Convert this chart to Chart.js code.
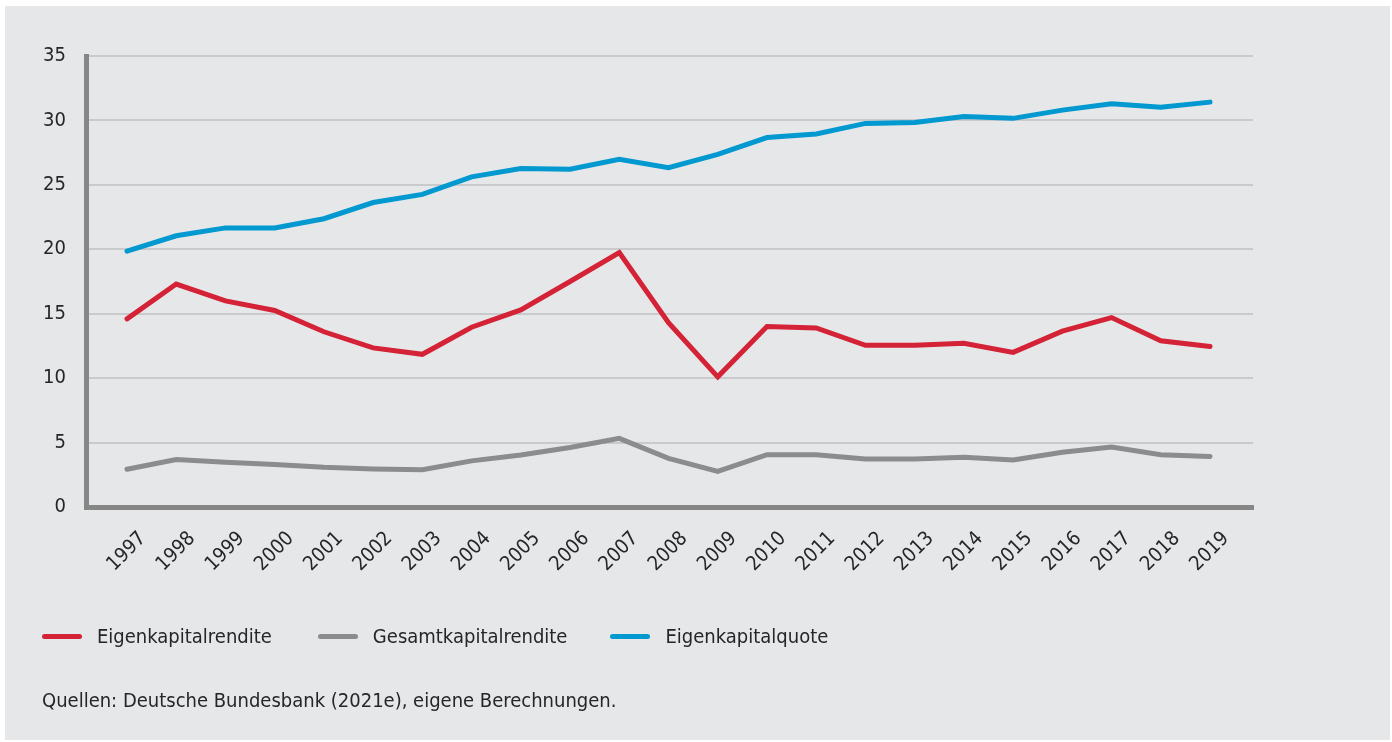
<!DOCTYPE html>
<html>
<head>
<meta charset="utf-8">
<script src="https://cdn.jsdelivr.net/npm/chart.js@4/dist/chart.umd.min.js"></script>
<style>
  html, body { margin: 0; padding: 0; background: #ffffff; }
  body { width: 1392px; height: 742px; position: relative; overflow: hidden;
         font-family: "DejaVu Sans Condensed", "DejaVu Sans", sans-serif; color: #262626; }
  #panel { position: absolute; left: 5px; top: 6px; width: 1385px; height: 734px; background: #e6e7e9; }
  #chartBox { position: absolute; left: 0; top: 0; width: 1392px; height: 742px; }
  .legend { position: absolute; top: 624px; left: 42px; height: 24px; display: flex; align-items: center; font-size: 20px; }
  .item { display: flex; align-items: center; }
  .swatch { width: 40px; height: 5px; border-radius: 3px; margin-right: 15px; }
  .source { position: absolute; left: 42px; top: 688px; font-size: 20px; }
</style>
</head>
<body>
<div id="panel"></div>
<div id="chartBox"><canvas id="chart" width="1392" height="742"></canvas></div>
<div class="legend" id="legend"></div>
<div class="source">Quellen: Deutsche Bundesbank (2021e), eigene Berechnungen.</div>
<script>
const years = [1997, 1998, 1999, 2000, 2001, 2002, 2003, 2004, 2005, 2006, 2007, 2008,
               2009, 2010, 2011, 2012, 2013, 2014, 2015, 2016, 2017, 2018, 2019];
const eigenkapitalrendite = [14.6, 17.3, 16.0, 15.25, 13.6, 12.35, 11.85, 13.95, 15.3, 17.5, 19.75, 14.3,
                             10.1, 14.0, 13.9, 12.55, 12.55, 12.7, 12.0, 13.65, 14.7, 12.9, 12.45];
const gesamtkapitalrendite = [2.93, 3.68, 3.48, 3.3, 3.08, 2.95, 2.9, 3.58, 4.03, 4.62, 5.33, 3.78,
                              2.76, 4.06, 4.06, 3.72, 3.72, 3.86, 3.65, 4.25, 4.66, 4.06, 3.92];
const eigenkapitalquote = [19.85, 21.05, 21.66, 21.66, 22.37, 23.63, 24.26, 25.62, 26.27, 26.22, 26.98, 26.33,
                           27.36, 28.67, 28.95, 29.77, 29.84, 30.3, 30.16, 30.8, 31.29, 31.02, 31.42];
const yTicks = [0, 5, 10, 15, 20, 25, 30, 35];

const seriesNames = ['Eigenkapitalrendite', 'Gesamtkapitalrendite', 'Eigenkapitalquote'];
const seriesColors = ['#d42236', '#8b8c8e', '#0199cf'];
const seriesValues = [eigenkapitalrendite, gesamtkapitalrendite, eigenkapitalquote];

const legend = document.getElementById('legend');
const gaps = ['46px', '43px', '0'];
seriesNames.forEach((name, i) => {
  const item = document.createElement('div');
  item.className = 'item';
  item.style.marginRight = gaps[i];
  item.innerHTML = '<span class="swatch" style="background:' + seriesColors[i] + '"></span><span>' + name + '</span>';
  legend.appendChild(item);
});

const tickFont = { family: '"DejaVu Sans Condensed", "DejaVu Sans", sans-serif', size: 20 };

new Chart(document.getElementById('chart'), {
  type: 'line',
  data: {
    datasets: seriesNames.map((name, i) => ({
      label: name,
      data: years.map((y, j) => ({ x: y, y: seriesValues[i][j] })),
      borderColor: seriesColors[i],
      borderWidth: 5,
      pointRadius: 0,
      tension: 0,
      borderCapStyle: 'round',
      borderJoinStyle: 'miter',
      fill: false
    }))
  },
  options: {
    responsive: false,
    animation: false,
    layout: { padding: { left: 10, top: 56, right: 139, bottom: 135 } },
    plugins: { legend: { display: false }, tooltip: { enabled: false } },
    scales: {
      x: {
        type: 'linear',
        min: 1996.167,
        max: 2019.873,
        afterBuildTicks: scale => { scale.ticks = years.map(v => ({ value: v })); },
        afterFit: scale => { scale.height = 100; },
        grid: { display: false, drawTicks: false, tickLength: 0 },
        border: { display: true, color: '#868686', width: 5 },
        ticks: {
          minRotation: 45, maxRotation: 45, autoSkip: false,
          padding: 20, labelOffset: 16,
          color: '#262626', font: tickFont,
          callback: v => String(v)
        }
      },
      y: {
        min: 0,
        max: 35,
        afterBuildTicks: scale => { scale.ticks = yTicks.map(v => ({ value: v })); },
        afterFit: scale => { scale.width = 76; },
        grid: { color: '#c9cacc', lineWidth: 2, drawTicks: false, tickLength: 0 },
        border: { display: true, color: '#868686', width: 5 },
        ticks: { padding: 20, color: '#262626', font: tickFont }
      }
    }
  }
});
</script>
</body>
</html>
